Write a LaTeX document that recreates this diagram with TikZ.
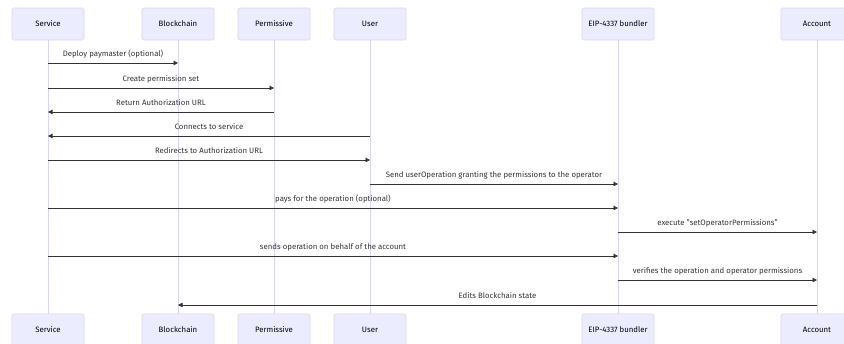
\documentclass[tikz,border=0pt]{standalone}
\usepackage{fontspec}
\setmainfont{Fira Sans}
\usetikzlibrary{arrows.meta}
\definecolor{actfill}{HTML}{ECECFF}
\definecolor{actdraw}{HTML}{DCD3F3}
\definecolor{lifec}{HTML}{DAD3F2}
\definecolor{msgc}{HTML}{333333}
\tikzset{
  actor/.style={draw=actdraw, fill=actfill, line width=0.6pt, rounded corners=1.5pt,
    minimum width=72pt, minimum height=32pt, inner sep=0pt, font=\fontsize{7.8}{9}\selectfont, text=black},
  life/.style={draw=lifec, line width=0.9pt},
  msg/.style={draw=msgc, line width=0.8pt, -{Triangle[length=4.5pt,width=4.5pt]}},
  lbl/.style={font=\fontsize{7.8}{9}\selectfont, text=msgc, inner sep=0pt},
}
\begin{document}
\begin{tikzpicture}[x=1pt,y=-1pt]
\useasboundingbox (0,0) rectangle (844,343);
% top actors
\node[actor] (tS) at (48,24) {Service};
\node[actor] (tB) at (178,24) {Blockchain};
\node[actor] (tP) at (274,24) {Permissive};
\node[actor] (tU) at (370,24) {User};
\node[actor] (tE) at (618,24) {EIP-4337 bundler};
\node[actor] (tA) at (817,24) {Account};
% bottom actors
\node[actor] (bS) at (48,330) {Service};
\node[actor] (bB) at (178,330) {Blockchain};
\node[actor] (bP) at (274,330) {Permissive};
\node[actor] (bU) at (370,330) {User};
\node[actor] (bE) at (618,330) {EIP-4337 bundler};
\node[actor] (bA) at (817,330) {Account};
% lifelines
\foreach \n in {S,B,P,U,E,A}{
  \draw[life] (t\n.south) -- (b\n.north);
}
% messages
\newcommand{\msgline}[4]{%
  \draw[msg] (t#1.south |- 0,#3) -- (t#2.south |- 0,#3);
  \path (t#1.south |- 0,#3) -- (t#2.south |- 0,#3) node[lbl, midway, yshift=9pt] {#4};
}
\msgline{S}{B}{63}{Deploy paymaster (optional)}
\msgline{S}{P}{88}{Create permission set}
\msgline{P}{S}{112}{Return Authorization URL}
\msgline{U}{S}{136}{Connects to service}
\msgline{S}{U}{160}{Redirects to Authorization URL}
\msgline{U}{E}{184}{Send userOperation granting the permissions to the operator}
\msgline{S}{E}{208}{pays for the operation (optional)}
\msgline{E}{A}{232}{execute "setOperatorPermissions"}
\msgline{S}{E}{256}{sends operation on behalf of the account}
\msgline{E}{A}{280}{verifies the operation and operator permissions}
\msgline{A}{B}{305}{Edits Blockchain state}
\end{tikzpicture}
\end{document}
